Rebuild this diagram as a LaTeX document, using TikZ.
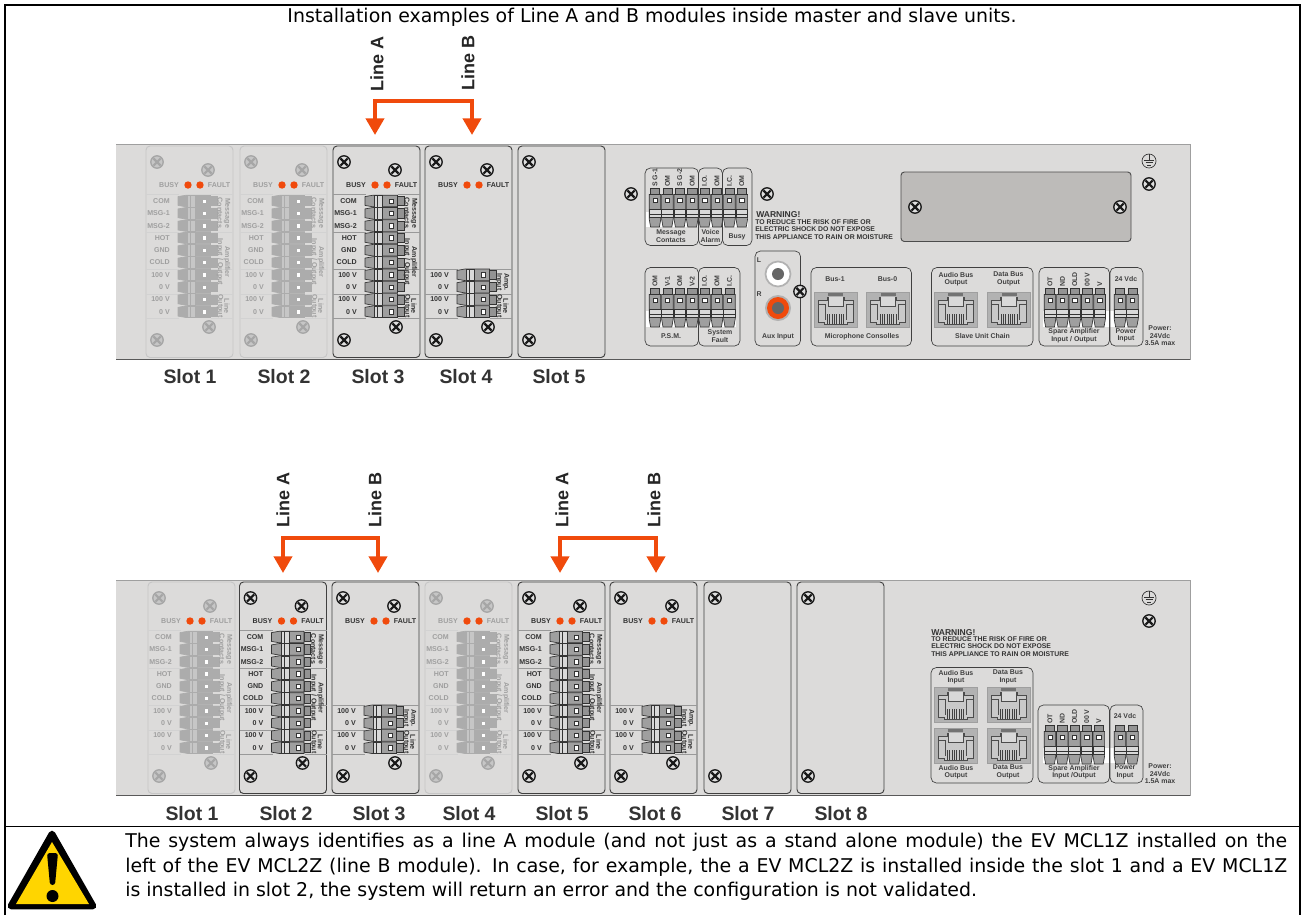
\documentclass[tikz,border=0pt]{standalone}
\usepackage{fontspec}
\setsansfont{Liberation Sans}
\newfontfamily\notefont{DejaVu Sans}
\usetikzlibrary{arrows.meta,positioning,calc}

\definecolor{panelgray}{HTML}{DCDBDA}
\definecolor{coverplate}{HTML}{BDBBB9}
\definecolor{ledorange}{HTML}{F04A0C}
\definecolor{alertyellow}{HTML}{FFD500}
\colorlet{cardline}{black!75}
\colorlet{cardtext}{black!80}
\colorlet{sepline}{gray!80}
\colorlet{screwline}{black!90}
\colorlet{screwfill}{gray!25}
\colorlet{termbody}{gray!75}
\colorlet{termtab}{gray!85}
\colorlet{termline}{black!80}
\colorlet{termwin}{white}
\colorlet{termband}{gray!30}

\tikzset{
  ghostcard/.code={%
    \colorlet{cardline}{gray!45}\colorlet{cardtext}{gray!75}\colorlet{sepline}{gray!35}%
    \colorlet{screwline}{gray!70}\colorlet{screwfill}{gray!45}\colorlet{termbody}{gray!65}%
    \colorlet{termtab}{gray!65}\colorlet{termline}{gray!65}\colorlet{termwin}{white}\colorlet{termband}{gray!45}},
  cardtxt/.style={font=\sffamily\bfseries\fontsize{5.3}{6}\selectfont,text=cardtext,inner sep=0pt},
  paneltxt/.style={font=\sffamily\bfseries\fontsize{5.2}{5.7}\selectfont,text=black!75,inner sep=0pt,align=center},
  warntxt/.style={font=\sffamily\bfseries\fontsize{5.15}{5.6}\selectfont,text=black!80,inner sep=0pt,anchor=base west},
  slotlabel/.style={font=\sffamily\bfseries\fontsize{14.6}{16}\selectfont,text=black!80,inner sep=0pt},
  linelabel/.style={font=\sffamily\bfseries\fontsize{13.5}{15}\selectfont,text=black!85,inner sep=0pt,rotate=90},
  linkarrow/.style={draw=ledorange,line width=3pt,line join=miter,
    {Triangle[length=12.5pt,width=13.5pt]}-{Triangle[length=12.5pt,width=13.5pt]}},
  groupbox/.style={draw=gray!50!black,line width=.5pt,rounded corners=4pt},
  pics/screw/.style={code={
    \draw[draw=screwline,fill=screwfill,line width=1pt] (0,0) circle (6.2);
    \draw[draw=screwline,line width=1.6pt] (-3.6,-3.6) -- (3.6,3.6) (-3.6,3.6) -- (3.6,-3.6);
  }},
  % tab at the origin, body hanging 39 units below it
  pics/term/.style={code={
    \draw[termline,fill=termtab,line width=.35pt] (-4.6,0) rectangle (4.6,6.5);
    \draw[termline,fill=termbody,line width=.5pt] (-5.8,6.5) -- (5.8,6.5) -- (5.8,31) -- (4.4,39) -- (-4.4,39) -- (-5.8,31) -- cycle;
    \draw[termline,fill=termwin,line width=.45pt] (-2.2,10.5) rectangle (2.2,14.5);
    \draw[termline,fill=termband,line width=.45pt] (-5.8,21.5) rectangle (5.8,29.5);
    \draw[termline,line width=.7pt] (-5.8,26.5) -- (5.8,26.5);
  }},
  pics/jack/.style={code={
    \draw[draw=gray!75,fill=gray!60,line width=.4pt] (0,0) rectangle (43,35);
    \draw[black!70,fill=gray!42,line width=.5pt] (4,8) -- (13,8) -- (13,5) -- (30,5) -- (30,8) -- (39,8) -- (39,30) -- (33,30) -- (33,32) -- (10,32) -- (10,30) -- (4,30) -- cycle;
    \draw[black!70,fill=gray!30,line width=.5pt] (14,5) -- (14,14) -- (29,14) -- (29,5);
    \draw[black!70,line width=.5pt] (4,12) -- (11,12) -- (11,28) (39,12) -- (32,12) -- (32,28);
    \fill[black!55] (14,1) rectangle (29,3.5);
    \foreach \k in {0,...,7}{\draw[black!75,line width=.6pt] ({13.5+2.3*\k},22) -- ({13.5+2.3*\k},32);}
  }},
  pics/ground/.style={code={
    \draw[black!80,fill=panelgray,line width=.5pt] (0,0) circle (7);
    \draw[black!80,line width=.5pt] (0,-7) -- (0,-1) (-5,-1) -- (5,-1) (-3.5,1.5) -- (3.5,1.5) (-1.8,4) -- (1.8,4);
  }},
  pics/cardshell/.style={code={
    \draw[draw=cardline,fill=panelgray,line width=.7pt,rounded corners=3pt] (0,0) rectangle (87,211.5);
    \pic at (11,16) {screw};
    \pic at (11,194) {screw};
  }},
  pics/cardtop/.style={code={
    \pic (-shell) {cardshell};
    \pic at (62,24) {screw};
    \pic at (63,181) {screw};
    \node[cardtxt] (-busy) at (23,39) {BUSY};
    \fill[ledorange] (42,39) circle (3.7) (54,39) circle (3.7);
    \node[cardtxt] (-fault) at (73,39) {FAULT};
    \foreach \s in {123,148,172}{\draw[sepline,line width=.7pt] (0,\s) -- (33,\s) (65,\s) -- (87,\s);}
  }},
  pics/linea/.style={code={
    \pic (-top) {cardtop};
    \foreach \s in {48,86}{\draw[sepline,line width=.7pt] (0,\s) -- (33,\s) (65,\s) -- (87,\s);}
    \foreach \i/\t in {0/COM,1/MSG-1,2/MSG-2,3/HOT,4/GND,5/COLD,6/100 V,7/0 V,8/100 V,9/0 V}{
      \node[cardtxt,anchor=east] (-row\i) at (24,{55+12.3*\i}) {\t};
      \pic[rotate=-90] at (71,{55+12.3*\i}) {term};
    }
    \node[cardtxt,rotate=-90] (-msg) at (81,67) {Message};
    \node[cardtxt,rotate=-90] (-con) at (74,67) {Contacts};
    \node[cardtxt,rotate=-90] (-amp) at (81,116) {Amplifier};
    \node[cardtxt,rotate=-90] (-inp) at (74,116) {Input / Output};
    \node[cardtxt,rotate=-90] (-lin) at (81,160) {Line};
    \node[cardtxt,rotate=-90] (-out) at (74,160) {Output};
  }},
  pics/lineb/.style={code={
    \pic (-top) {cardtop};
    \foreach \i/\t in {6/100 V,7/0 V,8/100 V,9/0 V}{
      \node[cardtxt,anchor=east] (-row\i) at (24,{55+12.3*\i}) {\t};
      \pic[rotate=-90] at (71,{55+12.3*\i}) {term};
    }
    \node[cardtxt,rotate=-90] (-amp) at (81,136) {Amp.};
    \node[cardtxt,rotate=-90] (-inp) at (74,136) {Input};
    \node[cardtxt,rotate=-90] (-lin) at (81,160) {Line};
    \node[cardtxt,rotate=-90] (-out) at (74,160) {Output};
  }},
}

\begin{document}
\begin{tikzpicture}[x=0.75pt,y=-0.75pt]
  \useasboundingbox (0,0) rectangle (1305,915);
  \fill[white] (0,0) rectangle (1305,915);
  % frame
  \draw[black,line width=1.3pt] (5,915) -- (5,5) -- (1300,5) -- (1300,915);
  \draw[black,line width=1.3pt] (5,826.5) -- (1300,826.5);
  \node[font=\notefont\fontsize{14.2}{17}\selectfont,inner sep=0pt] (title) at (652,17.5) {Installation examples of Line A and B modules inside master and slave units.};

  % upper panel
  \draw[draw=none,fill=panelgray] (116,144) rectangle (1190,359.5);
  \draw[gray!75,line width=.7pt] (116,144) -- (1190,144) -- (1190,359.5);
  \draw[black!65,line width=.9pt] (116,359.5) -- (1190,359.5);
  \pic[ghostcard] (ua) at (146,146) {linea};
  \pic[ghostcard] (ub) at (240,146) {linea};
  \pic (uc) at (333,146) {linea};
  \pic (ud) at (425,146) {lineb};
  \pic (ue) at (518,146) {cardshell};
  \foreach \i/\cx in {1/190,2/284,3/378,4/466,5/559}{\node[slotlabel] (upslot\i) at (\cx,377) {Slot \i};}

  \node[linelabel] (upA) at (377,64) {Line A};
  \node[linelabel] (upB) at (468,63) {Line B};
  \coordinate (upAtip) at (375,135); \coordinate (upAbend) at (375,101);
  \coordinate (upBtip) at (472,135); \coordinate (upBbend) at (472,101);
  \draw[linkarrow] (upAtip) -- (upAbend) -- (upBbend) -- (upBtip);

  % upper panel, fixed part
  \pic at (631,194) {screw};
  \pic at (767,194) {screw};
  \pic at (1149,184) {screw};
  \pic at (1149,161) {ground};
  \fill[white] (646,212) rectangle (748,227);
  \foreach \n/\t in {0/S G-1,1/OM,2/S G-2,3/OM,4/I.O.,5/OM,6/I.C.,7/OM}{
    \pic at ({655+12.4*\n},188) {term};
    \node[paneltxt,rotate=90,anchor=west] (cont\n) at ({655+12.4*\n},187) {\t};
  }
  \draw[groupbox] (645,168) rectangle (698.5,245.5);
  \draw[groupbox] (698.5,168) rectangle (722.5,245.5);
  \draw[groupbox] (722.5,168) rectangle (752,245.5);
  \node[paneltxt] (msgcon) at (671,236) {Message\\Contacts};
  \node[paneltxt] (voice) at (710.5,236) {Voice\\Alarm};
  \node[paneltxt] (busy) at (737,237) {Busy};
  \node[warntxt,font=\sffamily\bfseries\fontsize{6.4}{7}\selectfont] (upwarn) at (756,217) {WARNING!};
  \node[warntxt] (upwarna) at (755,224) {TO REDUCE THE RISK OF FIRE OR};
  \node[warntxt] (upwarnb) at (755,231.5) {ELECTRIC SHOCK DO NOT EXPOSE};
  \node[warntxt] (upwarnc) at (755,239.5) {THIS APPLIANCE TO RAIN OR MOISTURE};
  \draw[draw=black!70,fill=coverplate,line width=.7pt,rounded corners=2.5pt] (901,172) rectangle (1131,241.5);
  \pic at (915,207) {screw};
  \pic at (1120,207) {screw};

  \fill[white] (646,311) rectangle (736,327);
  \foreach \n/\t in {0/OM,1/V-1,2/OM,3/V-2,4/I.O.,5/OM,6/I.C.}{
    \pic at ({655+12.4*\n},288) {term};
    \node[paneltxt,rotate=90,anchor=west] (psm\n) at ({655+12.4*\n},287) {\t};
  }
  \draw[groupbox] (645,267.5) rectangle (698.5,346);
  \draw[groupbox] (698.5,267.5) rectangle (740,346);
  \node[paneltxt] (psmlab) at (671,336.5) {P.S.M.};
  \node[paneltxt] (sysfault) at (720,336) {System\\Fault};

  \draw[groupbox] (755,251) rectangle (800.5,346);
  \node[paneltxt] (auxl) at (759,260) {L};
  \node[paneltxt] (auxr) at (759,294) {R};
  \draw[draw=gray!60,fill=white,line width=1.3pt] (778,274) circle (12.5);
  \fill[black!60] (778,274) circle (6);
  \fill[gray!60] (778,308) circle (13);
  \fill[ledorange] (778,308) circle (11);
  \fill[black!60] (778,308) circle (6);
  \pic at (800,291.5) {screw};
  \node[paneltxt] (auxin) at (778,336.5) {Aux Input};

  \draw[groupbox] (811,267.5) rectangle (911.5,346);
  \node[paneltxt] (busone) at (835,279.5) {Bus-1};
  \node[paneltxt] (buszero) at (887.5,279.5) {Bus-0};
  \pic at (814,292) {jack};
  \pic at (866.5,292) {jack};
  \node[paneltxt] (miccon) at (862,336.5) {Microphone Consolles};

  \draw[groupbox] (931.5,267.5) rectangle (1033,346);
  \node[paneltxt] (audout) at (956,279) {Audio Bus\\Output};
  \node[paneltxt] (datout) at (1008.5,279) {Data Bus\\Output};
  \pic at (934,292) {jack};
  \pic at (987.5,292) {jack};
  \node[paneltxt] (chain) at (982.5,336.5) {Slave Unit Chain};

  \fill[white] (1043,311) rectangle (1138,327);
  \foreach \n/\t in {0/OT,1/ND,2/OLD,3/00 V,4/V}{
    \pic at ({1050+12.4*\n},288) {term};
    \node[paneltxt,rotate=90,anchor=west] (spare\n) at ({1050+12.4*\n},287) {\t};
  }
  \pic at (1120,288) {term};
  \pic at (1132.4,288) {term};
  \draw[groupbox] (1039,267.5) rectangle (1109.5,346);
  \draw[groupbox] (1110,267.5) rectangle (1143,346);
  \node[paneltxt] (volt) at (1126,279.5) {24 Vdc};
  \node[paneltxt] (sparelab) at (1074,335.5) {Spare Amplifier\\Input / Output};
  \node[paneltxt] (powin) at (1126,335.5) {Power\\Input};
  \node[paneltxt] (powlab) at (1160,336) {Power:\\24Vdc\\3.5A max};

  % lower panel
  \draw[draw=none,fill=panelgray] (116,580) rectangle (1190,795.5);
  \draw[gray!75,line width=.7pt] (116,580) -- (1190,580) -- (1190,795.5);
  \draw[black!65,line width=.9pt] (116,795.5) -- (1190,795.5);
  \pic[ghostcard] (la) at (148,582) {linea};
  \pic (lb) at (239.5,582) {linea};
  \pic (lc) at (332,582) {lineb};
  \pic[ghostcard] (ld) at (425,582) {linea};
  \pic (le) at (518,582) {linea};
  \pic (lf) at (610,582) {lineb};
  \pic (lg) at (704,582) {cardshell};
  \pic (lh) at (797,582) {cardshell};
  \foreach \i/\cx in {1/192,2/286,3/379,4/469,5/562,6/655,7/748,8/841}{\node[slotlabel] (loslot\i) at (\cx,814) {Slot \i};}

  \node[linelabel] (loA) at (283,500) {Line A};
  \node[linelabel] (loB) at (375,500) {Line B};
  \node[linelabel] (loC) at (562,500) {Line A};
  \node[linelabel] (loD) at (654,500) {Line B};
  \coordinate (loAtip) at (283,573); \coordinate (loAbend) at (283,538);
  \coordinate (loBtip) at (378,573); \coordinate (loBbend) at (378,538);
  \coordinate (loCtip) at (560,573); \coordinate (loCbend) at (560,538);
  \coordinate (loDtip) at (656,573); \coordinate (loDbend) at (656,538);
  \draw[linkarrow] (loAtip) -- (loAbend) -- (loBbend) -- (loBtip);
  \draw[linkarrow] (loCtip) -- (loCbend) -- (loDbend) -- (loDtip);

  % lower panel, fixed part
  \pic at (1149,598) {ground};
  \pic at (1149,621) {screw};
  \node[warntxt,font=\sffamily\bfseries\fontsize{6.4}{7}\selectfont] (lowarn) at (931,635) {WARNING!};
  \node[warntxt] (lowarna) at (931,641.5) {TO REDUCE THE RISK OF FIRE OR};
  \node[warntxt] (lowarnb) at (931,648.5) {ELECTRIC SHOCK DO NOT EXPOSE};
  \node[warntxt] (lowarnc) at (931,656.5) {THIS APPLIANCE TO RAIN OR MOISTURE};

  \draw[groupbox] (931,667.5) rectangle (1033,783);
  \node[paneltxt] (audbusin) at (956,677) {Audio Bus\\Input};
  \node[paneltxt] (datbusin) at (1008,677) {Data Bus\\Input};
  \pic at (934,687) {jack};
  \pic at (987,687) {jack};
  \pic at (934,728) {jack};
  \pic at (987,728) {jack};
  \node[paneltxt] (audbusout) at (956,772) {Audio Bus\\Output};
  \node[paneltxt] (datbusout) at (1008,772) {Data Bus\\Output};

  \fill[white] (1043,748) rectangle (1138,763);
  \foreach \n/\t in {0/OT,1/ND,2/OLD,3/00 V,4/V}{
    \pic at ({1050+12.2*\n},725) {term};
    \node[paneltxt,rotate=90,anchor=west] (lospare\n) at ({1050+12.2*\n},724) {\t};
  }
  \pic at (1120,725) {term};
  \pic at (1132.4,725) {term};
  \draw[groupbox] (1038,705) rectangle (1109.5,783);
  \draw[groupbox] (1110,705) rectangle (1143,783);
  \node[paneltxt] (lovolt) at (1125,716) {24 Vdc};
  \node[paneltxt] (losparelab) at (1074,772) {Spare Amplifier\\Input /Output};
  \node[paneltxt] (lopowin) at (1125,772) {Power\\Input};
  \node[paneltxt] (lopowlab) at (1160,774) {Power:\\24Vdc\\1.5A max};

  % note below
  \draw[black,fill=black,line width=5pt,line join=round] (52,834) -- (11,906) -- (93,906) -- cycle;
  \fill[alertyellow] (52,842) -- (16,904) -- (89,904) -- cycle;
  \fill[black,rounded corners=2pt] (47,853) -- (58,853) -- (55,885) -- (50,885) -- cycle;
  \fill[black] (52.5,896) circle (6);
  \node[font=\notefont\fontsize{14.2}{18.4}\selectfont,inner sep=0pt,anchor=north west,text width=871.5pt,align=justify] (note) at (125,833) {The system always identifies as a line A module (and not just as a stand alone module) the EV MCL1Z installed on the\linebreak left of the EV MCL2Z (line B module). In case, for example, the a EV MCL2Z is installed inside the slot 1 and a EV MCL1Z\linebreak is installed in slot 2, the system will return an error and the configuration is not validated.};
\end{tikzpicture}
\end{document}
